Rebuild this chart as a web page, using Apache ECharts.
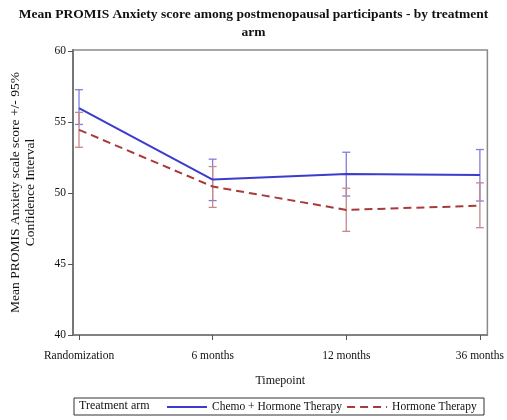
<!DOCTYPE html>
<html><head><meta charset="utf-8">
<script src="https://cdn.jsdelivr.net/npm/echarts@6/dist/echarts.min.js"></script>
<style>html,body{margin:0;padding:0;background:#fff}#c{width:507px;height:420px}</style>
</head><body><div id="c"></div>
<script>
const categories = ['Randomization', '6 months', '12 months', '36 months'];
const chemoMean = [56.0, 50.96, 51.36, 51.29];
const chemoLow  = [54.85, 49.48, 49.8, 49.45];
const chemoHigh = [57.3, 52.4, 52.89, 53.08];
const hormMean  = [54.47, 50.47, 48.82, 49.12];
const hormLow   = [53.24, 49.0, 47.31, 47.57];
const hormHigh  = [55.7, 51.88, 50.35, 50.73];
const yTicks = [40, 45, 50, 55, 60];

const FONT = '"Liberation Serif", "Times New Roman", serif';
const blue = '#3b3bcc', blueCI = '#7f7fdc';
const red = '#a83a3a', redCI = '#c98888';

function ciSeries(name, lo, hi, color) {
  return {
    type: 'custom', name: name, silent: true, z: 3,
    data: lo.map((v, i) => [i, v, hi[i]]),
    renderItem: function (params, api) {
      const x = api.value(0);
      const p1 = api.coord([x, api.value(1)]);
      const p2 = api.coord([x, api.value(2)]);
      const w = 4;
      const st = { stroke: color, lineWidth: 1.3 };
      return { type: 'group', children: [
        { type: 'line', shape: { x1: p1[0], y1: p1[1], x2: p2[0], y2: p2[1] }, style: st },
        { type: 'line', shape: { x1: p1[0]-w, y1: p1[1], x2: p1[0]+w, y2: p1[1] }, style: st },
        { type: 'line', shape: { x1: p2[0]-w, y1: p2[1], x2: p2[0]+w, y2: p2[1] }, style: st }
      ]};
    }
  };
}

const chart = echarts.init(document.getElementById('c'), null, { renderer: 'canvas' });
chart.setOption({
  animation: false,
  textStyle: { fontFamily: FONT },
  title: {
    text: 'Mean PROMIS Anxiety score among postmenopausal participants - by treatment\narm',
    left: 'center', top: 1,
    textStyle: { fontFamily: FONT, fontWeight: 'bold', fontSize: 13.5, color: '#111', lineHeight: 18 }
  },
  grid: { left: 72, right: 17, top: 50, bottom: 85, show: true, borderColor: '#8a8a8a', borderWidth: 1.5, backgroundColor: 'transparent' },
  xAxis: {
    type: 'value', min: -0.045, max: 3.056,
    name: 'Timepoint', nameLocation: 'middle', nameGap: 40,
    nameTextStyle: { fontFamily: FONT, fontSize: 12, color: '#111' },
    axisLine: { show: true, onZero: false, lineStyle: { color: '#777', width: 1.5 } },
    axisTick: { show: true, length: 5, customValues: [0, 1, 2, 3], lineStyle: { color: '#555' } },
    axisLabel: { customValues: [0, 1, 2, 3], margin: 15, fontFamily: FONT, fontSize: 11.5, color: '#111',
      formatter: v => categories[Math.round(v)] },
    splitLine: { show: false }
  },
  yAxis: {
    type: 'value', min: 40, max: 60.1,
    name: 'Mean PROMIS Anxiety scale score +/- 95%\nConfidence Interval',
    nameLocation: 'middle', nameGap: 35, nameRotate: 90,
    nameTextStyle: { fontFamily: FONT, fontSize: 13.5, color: '#111', lineHeight: 15 },
    axisLine: { show: true, onZero: false, lineStyle: { color: '#777', width: 2 } },
    axisTick: { show: true, length: 5, customValues: yTicks, lineStyle: { color: '#555' } },
    axisLabel: { customValues: yTicks, margin: 7, fontFamily: FONT, fontSize: 11.5, color: '#111' },
    splitLine: { show: false }
  },
  legend: {
    top: 401, left: 166, padding: 0,
    itemWidth: 40, itemHeight: 10, itemGap: 4,
    itemStyle: { color: 'rgba(0,0,0,0)', borderWidth: 0, opacity: 0 },
    data: ['Chemo + Hormone Therapy', 'Hormone Therapy'],
    textStyle: { fontFamily: FONT, fontSize: 11.5, color: '#111' }
  },
  graphic: [
    { type: 'rect', shape: { x: 74, y: 398, width: 410, height: 17 }, style: { fill: 'none', stroke: '#333', lineWidth: 1 } },
    { type: 'text', left: 79, top: 400, style: { text: 'Treatment arm', font: '12px ' + FONT, fill: '#111' } }
  ],
  series: [
    ciSeries('chemoCI', chemoLow, chemoHigh, blueCI),
    ciSeries('hormCI', hormLow, hormHigh, redCI),
    { type: 'line', name: 'Chemo + Hormone Therapy', z: 4, symbol: 'none',
      data: chemoMean.map((v, i) => [i, v]),
      lineStyle: { color: blue, width: 2 }, itemStyle: { color: blue } },
    { type: 'line', name: 'Hormone Therapy', z: 4, symbol: 'none',
      data: hormMean.map((v, i) => [i, v]),
      lineStyle: { color: red, width: 2, type: [8, 5] }, itemStyle: { color: red } }
  ]
});
</script></body></html>
